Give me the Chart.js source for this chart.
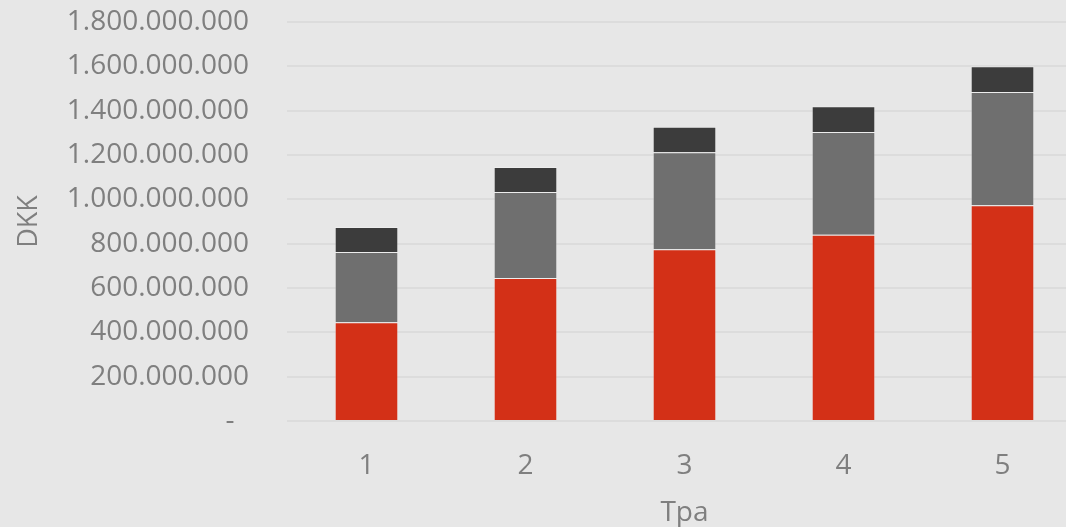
<!DOCTYPE html>
<html>
<head>
<meta charset="utf-8">
<script src="https://cdn.jsdelivr.net/npm/chart.js@4"></script>
<style>
  html, body { margin: 0; padding: 0; background: #e7e7e7; overflow: hidden; }
  #wrap { width: 1082px; height: 527px; }
</style>
</head>
<body>
<div id="wrap"><canvas id="chart" width="1082" height="527"></canvas></div>
<script>
// data
const kategorier = ['1', '2', '3', '4', '5'];
const serieRod = [445000000, 645000000, 775000000, 840000000, 973000000];
const serieGraa = [317000000, 388000000, 437000000, 464000000, 511000000];
const serieMork = [113000000, 113000000, 115000000, 116000000, 116000000];

const tekstFarve = '#7f7f7f';
const fontNavn = "'Open Sans', 'Liberation Sans', sans-serif";

// dansk talformat: 1.800.000.000, nul som "-"
function dkFormat(v) {
    if (v === 0) return '-  ';
    return String(Math.round(v)).replace(/\B(?=(\d{3})+(?!\d))/g, '.');
}

const ctx = document.getElementById('chart').getContext('2d');

new Chart(ctx, {
    type: 'bar',
    data: {
        labels: kategorier,
        datasets: [
            { label: 'A', data: serieRod, backgroundColor: '#d33017' },
            { label: 'B', data: serieGraa, backgroundColor: '#6f6f6f' },
            { label: 'C', data: serieMork, backgroundColor: '#3c3c3c' }
        ]
    },
    options: {
        responsive: false,
        animation: false,
        layout: { padding: { top: 0, right: 0, bottom: 0, left: 0 } },
        datasets: {
            bar: {
                barPercentage: 0.4,
                categoryPercentage: 1,
                borderWidth: 1,
                borderColor: 'rgba(255,255,255,0.25)'
            }
        },
        plugins: {
            legend: { display: false },
            tooltip: { enabled: false }
        },
        scales: {
            x: {
                stacked: true,
                grid: { display: false },
                border: { display: false },
                ticks: {
                    color: tekstFarve,
                    font: { family: fontNavn, size: 28 },
                    padding: 20
                },
                title: {
                    display: true,
                    text: 'Tpa',
                    color: tekstFarve,
                    font: { family: fontNavn, size: 28 },
                    padding: { top: 0, bottom: -3 }
                },
                afterFit(scale) { scale.height = 106; }
            },
            y: {
                stacked: true,
                min: 0,
                max: 1800000000,
                grid: { color: '#dcdcdc', lineWidth: 2, drawTicks: false },
                border: { display: false },
                ticks: {
                    stepSize: 200000000,
                    color: tekstFarve,
                    font: { family: fontNavn, size: 28 },
                    padding: 38,
                    callback: (v) => dkFormat(v)
                },
                title: {
                    display: true,
                    text: 'DKK',
                    color: tekstFarve,
                    font: { family: fontNavn, size: 27 },
                    padding: { top: 13, bottom: 0 }
                },
                afterFit(scale) {
                    scale.width = 287;
                    // plot top at the 1.800.000.000 line
                    scale.paddingTop = 22;
                    scale.paddingBottom = 0;
                }
            }
        }
    }
});
</script>
</body>
</html>
